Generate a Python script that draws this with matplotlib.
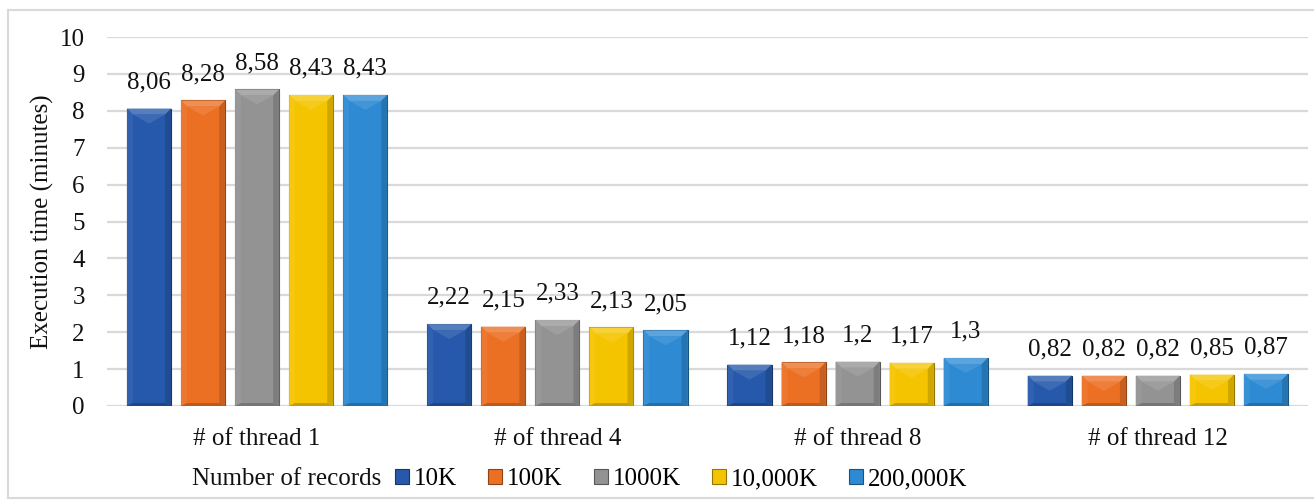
import numpy as np
import matplotlib
matplotlib.use("Agg")
import matplotlib.pyplot as plt
from matplotlib.patches import Polygon, Patch
from matplotlib.lines import Line2D
import matplotlib.colors as mcolors

plt.rcParams['font.family'] = ['Liberation Serif', 'DejaVu Serif']

# thread counts on the x axis, record counts as series
groups = ['# of thread 1', '# of thread 4', '# of thread 8', '# of thread 12']
series = ['10K', '100K', '1000K', '10,000K', '200,000K']
values = {
    '10K':      [8.06, 2.22, 1.12, 0.82],
    '100K':     [8.28, 2.15, 1.18, 0.82],
    '1000K':    [8.58, 2.33, 1.20, 0.82],
    '10,000K':  [8.43, 2.13, 1.17, 0.85],
    '200,000K': [8.43, 2.05, 1.30, 0.87],
}
colors = ['#2659ab', '#ec7024', '#939393', '#f5c400', '#2d8ad3']
FS = 18


def fmt(v):
    # comma as decimal separator, drop trailing zeros
    s = ('%.2f' % v).rstrip('0').rstrip('.')
    return s.replace('.', ',')


def shade(c, f):
    r = np.array(mcolors.to_rgb(c))
    if f > 0:
        return tuple(r + (1 - r) * f)
    return tuple(r * (1 + f))


def bevel(ax, rect, color, px=6):
    # fake the raised 3d look with soft edge facets
    inv = ax.transData.inverted()
    p0 = inv.transform((0, 0))
    p1 = inv.transform((px, px))
    dx, dy = p1[0] - p0[0], p1[1] - p0[1]
    x0, w, h = rect.get_x(), rect.get_width(), rect.get_height()
    x1 = x0 + w
    dy = min(dy, h / 3)
    facets = [
        ([(x0, h), (x1, h), (x1 - dx, h - dy), (x0 + dx, h - dy)], shade(color, 0.22)),
        ([(x0, 0), (x0, h), (x0 + dx, h - dy), (x0 + dx, dy / 2)], shade(color, 0.05)),
        ([(x1, 0), (x1, h), (x1 - dx, h - dy), (x1 - dx, dy / 2)], shade(color, -0.15)),
        ([(x0, 0), (x1, 0), (x1 - dx, dy / 2), (x0 + dx, dy / 2)], shade(color, -0.2)),
    ]
    for pts, fc in facets:
        ax.add_patch(Polygon(pts, closed=True, facecolor=fc, edgecolor='none', zorder=3))
    # faint light wedge under the top facet
    ax.add_patch(Polygon([(x0 + dx, h - dy), (x1 - dx, h - dy), ((x0 + x1) / 2, h - 2.5 * dy)],
                         closed=True, facecolor=shade(color, 0.1), edgecolor='none', zorder=3))


fig = plt.figure(figsize=(13.14, 5.0), dpi=100)
ax = fig.add_axes([107 / 1314, 94 / 500, 1201 / 1314, 369 / 500])

x = np.arange(len(groups))
step = 0.18
width = 0.147
offsets = (np.arange(len(series)) - 2) * step

ax.set_xlim(-0.5, len(groups) - 0.5)
ax.set_ylim(0, 10)

for i, name in enumerate(series):
    bars = ax.bar(x + offsets[i], values[name], width, color=colors[i],
                  edgecolor=shade(colors[i], -0.4), linewidth=0.8, zorder=2)
    for rect, v in zip(bars, values[name]):
        bevel(ax, rect, colors[i])
        ax.annotate(fmt(v), (rect.get_x() + rect.get_width() / 2, rect.get_height()),
                    xytext=(0, 11), textcoords='offset points', ha='center', va='bottom',
                    fontsize=FS, color='#111111')

ax.set_yticks(np.arange(0, 11, 1))
ax.set_xticks(x)
ax.set_xticklabels(groups)
ax.tick_params(axis='both', length=0, labelsize=FS, colors='#111111')
ax.tick_params(axis='y', pad=16)
ax.tick_params(axis='x', pad=16)
ax.grid(axis='y', color='#d9d9d9', linewidth=1.6, zorder=0)
ax.set_axisbelow(True)
for s in ax.spines.values():
    s.set_visible(False)
ax.set_ylabel('Execution time (minutes)', fontsize=FS, color='#111111', labelpad=4)

# legend with its caption to the left of the handles
fig.text(192 / 1314, 21 / 500, 'Number of records', fontsize=FS, color='#111111',
         ha='left', va='center')
handles = [Patch(facecolor=c, edgecolor=shade(c, -0.4), linewidth=0.8) for c in colors]
fig.legend(handles, series, loc='center left', bbox_to_anchor=(395 / 1314, 21 / 500),
           ncol=5, frameon=False, fontsize=FS, handlelength=0.55, handleheight=0.55,
           handletextpad=0.2, columnspacing=1.25, borderaxespad=0, borderpad=0)

# thin frame round the whole chart
for xs, ys in [((8, 8), (2, 490)), ((8, 1314), (490, 490)), ((8, 1314), (2, 2))]:
    fig.add_artist(Line2D([v / 1314 for v in xs], [v / 500 for v in ys],
                          color='#d9d9d9', linewidth=1.5))

fig.savefig('out.png', dpi=100)
